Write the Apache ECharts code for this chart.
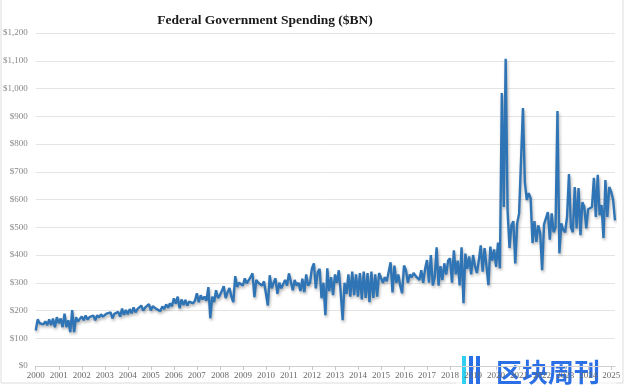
<!DOCTYPE html>
<html><head><meta charset="utf-8">
<script src="https://cdn.jsdelivr.net/npm/echarts@6/dist/echarts.min.js"></script>
<style>html,body{margin:0;padding:0;background:#fff}#c{width:626px;height:386px}</style>
</head><body><div id="c"></div>
<script>
const title = "Federal Government Spending ($BN)";
const years = [2000,2001,2002,2003,2004,2005,2006,2007,2008,2009,2010,2011,2012,2013,2014,2015,2016,2017,2018,2019,2020,2021,2022,2023,2024,2025];
// monthly outlays, $BN
const s2000 = [128,168,154,158,150,161,147,168,147,171,140,176];
const s2001 = [154,171,140,189,140,165,122,201,122,176,160,170];
const s2002 = [178,165,182,168,176,170,182,165,183,175,186,178];
const s2003 = [180,189,183,193,172,188,183,195,178,207,184,202];
const s2004 = [186,205,190,211,193,205,199,218,200,210,215,223];
const s2005 = [200,215,218,205,212,198,215,205,222,210,226,215];
const s2006 = [244,225,250,208,240,220,238,218,232,228,226,235];
const s2007 = [262,230,255,240,250,235,284,172,250,230,273,245];
const s2008 = [255,270,288,245,265,281,250,230,324,285,300,298];
const s2009 = [290,316,298,305,320,334,248,310,300,300,290,305];
const s2010 = [262,218,327,280,300,316,260,300,280,295,310,290];
const s2011 = [334,334,273,310,290,300,270,315,266,330,290,300];
const s2012 = [352,370,280,338,350,244,300,183,352,270,320,255];
const s2013 = [330,300,345,265,165,300,260,330,250,340,255,330];
const s2014 = [250,335,240,340,245,335,230,340,245,330,250,335];
const s2015 = [334,300,320,305,298,374,265,362,300,330,290,262];
const s2016 = [362,345,300,330,320,335,325,330,310,345,300,350];
const s2017 = [382,300,400,290,320,428,290,360,310,370,330,380];
const s2018 = [388,300,417,330,380,290,428,226,405,350,395,330];
const s2019 = [400,360,335,380,435,340,425,360,291,430,380,420];
const s2020 = [357,445,352,984,573,1107,560,425,507,522,370,514];
const s2021 = [550,555,930,663,598,623,605,443,522,447,507,478];
const s2022 = [345,510,507,555,455,550,482,500,919,406,514,490];
const s2023 = [482,537,692,500,482,645,496,641,471,590,573,496];
const s2024 = [565,569,573,678,537,689,543,580,461,670,537,645];
const s2025 = [628,600,525];
const yearly = [s2000,s2001,s2002,s2003,s2004,s2005,s2006,s2007,s2008,s2009,s2010,s2011,s2012,s2013,s2014,s2015,s2016,s2017,s2018,s2019,s2020,s2021,s2022,s2023,s2024,s2025];

const cats = [], vals = [];
yearly.forEach((arr, i) => arr.forEach((v, m) => { cats.push(years[i] + '-' + (m + 1)); vals.push(v); }));

const serif = '"Liberation Serif","DejaVu Serif",serif';
const chart = echarts.init(document.getElementById('c'));
const isJan = (idx) => cats[idx].endsWith('-1');
chart.setOption({
  animation: false,
  backgroundColor: '#fff',
  title: { text: title, left: 260, textAlign: 'center', top: 9,
    textStyle: { fontFamily: serif, fontSize: 13.5, fontWeight: 'bold', color: '#1a1a1a' } },
  grid: { left: 35, right: 11, top: 33, bottom: 20 },
  xAxis: {
    type: 'category', data: cats, boundaryGap: false,
    axisLine: { lineStyle: { color: '#d0d0d0' } },
    axisTick: { interval: (i) => isJan(i), length: 4, lineStyle: { color: '#c8c8c8' } },
    axisLabel: { interval: (i) => isJan(i), formatter: (v) => v.split('-')[0],
      fontFamily: serif, fontSize: 9, color: '#6a6a6a', margin: 5 },
    splitLine: { show: false }
  },
  yAxis: {
    type: 'value', min: 0, max: 1200, interval: 100,
    axisLine: { show: false }, axisTick: { show: false },
    axisLabel: { formatter: (v) => '$' + v.toLocaleString('en-US'),
      fontFamily: serif, fontSize: 9, color: '#888', margin: 8 },
    splitLine: { lineStyle: { color: '#e4e4e4' } }
  },
  series: [{
    type: 'line', data: vals, showSymbol: false, symbol: 'none',
    lineStyle: { color: '#2f74b5', width: 2.4, shadowColor: 'rgba(0,0,0,0.3)', shadowBlur: 3, shadowOffsetX: 1, shadowOffsetY: 2 },
    itemStyle: { color: '#2f74b5' }
  }],
  graphic: [
    { type: 'rect', shape: { x: 1, y: -5, width: 622, height: 388 }, style: { fill: 'none', stroke: '#dcdcdc', lineWidth: 1 }, silent: true },
    { type: 'rect', shape: { x: 456, y: 352, width: 160, height: 34 }, style: { fill: 'rgba(255,255,255,0.55)' }, silent: true },
    { type: 'rect', shape: { x: 462, y: 356, width: 4, height: 28 }, style: { fill: '#2fd0f0' }, silent: true },
    { type: 'rect', shape: { x: 469, y: 356, width: 4, height: 28 }, style: { fill: '#2a6fe6' }, silent: true },
    { type: 'rect', shape: { x: 476, y: 356, width: 4, height: 28 }, style: { fill: '#2a6fe6' }, silent: true },
    { type: 'text', left: 496, top: 359, style: { text: '区块周刊', fontFamily: '"Noto Sans CJK SC"', fontSize: 26, fontWeight: 'bold', fill: '#2a6fe6' }, silent: true }
  ]
});
</script></body></html>
